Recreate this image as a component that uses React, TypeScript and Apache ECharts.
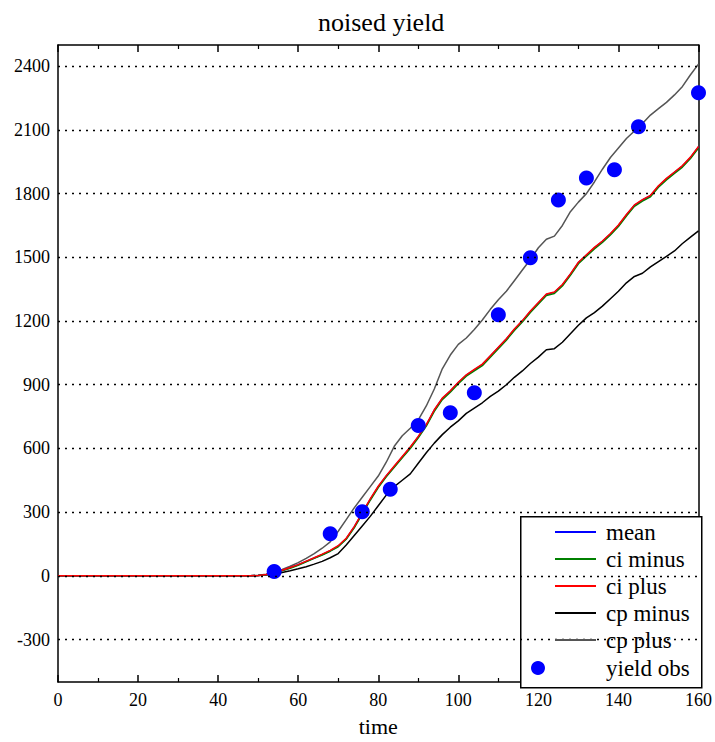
import React, { useEffect, useRef } from "react";
import * as echarts from "echarts";

const times = [0, 48, 50, 52, 54, 56, 58, 60, 62, 64, 66, 68, 70, 72, 74, 76, 78, 80, 82, 84, 86, 88, 90, 92, 94, 96, 98, 100, 102, 104, 106, 108, 110, 112, 114, 116, 118, 120, 122, 124, 126, 128, 130, 132, 134, 136, 138, 140, 142, 144, 146, 148, 150, 152, 154, 156, 158, 160];

const meanVals = [0, 0, 2, 6, 14, 25, 38, 52, 68, 84, 100, 118, 140, 175, 230, 295, 360, 420, 470, 515, 560, 605, 655, 710, 780, 835, 870, 910, 945, 970, 995, 1035, 1075, 1115, 1160, 1200, 1245, 1285, 1325, 1335, 1370, 1420, 1475, 1510, 1545, 1575, 1610, 1650, 1700, 1745, 1770, 1790, 1835, 1870, 1900, 1930, 1970, 2020];
const ciMinusVals = [0, 0, 2, 5, 13, 24, 36, 50, 66, 82, 98, 116, 137, 172, 226, 291, 356, 416, 466, 511, 556, 600, 650, 705, 775, 830, 865, 905, 940, 965, 990, 1030, 1070, 1110, 1155, 1195, 1240, 1280, 1320, 1330, 1365, 1415, 1470, 1505, 1540, 1570, 1605, 1645, 1695, 1740, 1765, 1785, 1830, 1865, 1895, 1925, 1965, 2015];
const ciPlusVals = [0, 0, 2, 6, 15, 26, 39, 53, 69, 85, 102, 120, 142, 177, 232, 297, 362, 422, 472, 517, 562, 607, 657, 712, 782, 837, 872, 912, 947, 972, 997, 1037, 1077, 1117, 1162, 1202, 1247, 1287, 1327, 1337, 1372, 1422, 1477, 1512, 1547, 1577, 1612, 1652, 1702, 1747, 1772, 1792, 1837, 1872, 1902, 1932, 1972, 2022];
const cpMinusVals = [0, 0, 1, 4, 9, 16, 24, 33, 43, 55, 68, 85, 105, 145, 190, 235, 280, 330, 380, 420, 450, 480, 530, 580, 625, 665, 700, 730, 765, 790, 815, 845, 870, 900, 935, 965, 1000, 1030, 1065, 1070, 1100, 1140, 1180, 1215, 1240, 1270, 1305, 1340, 1380, 1410, 1425, 1455, 1480, 1505, 1530, 1565, 1595, 1625];
const cpPlusVals = [0, 0, 3, 8, 17, 30, 45, 62, 82, 105, 130, 160, 210, 265, 320, 370, 420, 470, 535, 610, 660, 695, 735, 800, 880, 975, 1040, 1090, 1120, 1160, 1205, 1255, 1300, 1340, 1390, 1440, 1490, 1545, 1585, 1600, 1650, 1715, 1760, 1800, 1855, 1915, 1970, 2015, 2060, 2095, 2130, 2170, 2200, 2230, 2265, 2305, 2360, 2410];

const obsTimes = [54, 68, 76, 83, 90, 98, 104, 110, 118, 125, 132, 139, 145, 160];
const obsVals = [20, 198, 302, 408, 708, 768, 862, 1230, 1498, 1770, 1874, 1913, 2115, 2275];

const gridValues = [-300, 0, 300, 600, 900, 1200, 1500, 1800, 2100, 2400];

const lineNames = ["mean", "ci minus", "ci plus", "cp minus", "cp plus"];

const FONT = "'Liberation Serif', 'DejaVu Serif', serif";

function zip(xs: number[], ys: number[]) {
  return xs.map((x, i) => [x, ys[i]]);
}

export default function App() {
  const ref = useRef<HTMLDivElement>(null);
  useEffect(() => {
    if (!ref.current) return;
    const chart = echarts.init(ref.current, null, { renderer: "svg" });
    const lineSeries = (name: string, vals: number[], color: string, extra: any = {}) => ({
      name,
      type: "line",
      data: zip(times, vals),
      showSymbol: false,
      symbol: "none",
      lineStyle: { color, width: 1.5 },
      itemStyle: { color },
      z: 2,
      ...extra,
    });
    chart.setOption({
      animation: false,
      backgroundColor: "#fff",
      title: {
        text: "noised yield",
        left: 313,
        top: 4,
        textStyle: { fontFamily: FONT, fontSize: 26, fontWeight: "normal", color: "#000" },
      },
      grid: { left: 58, right: 14, top: 45, bottom: 55, containLabel: false },
      xAxis: [
        {
          type: "value",
          min: 0,
          max: 160,
          interval: 20,
          name: "time",
          nameLocation: "middle",
          nameGap: 33,
          nameTextStyle: { fontFamily: FONT, fontSize: 22, color: "#000" },
          axisLine: { onZero: false, lineStyle: { color: "#000", width: 1.5 } },
          axisTick: { inside: true, length: 7, lineStyle: { color: "#000", width: 1.5 } },
          minorTick: { show: true, splitNumber: 2, length: 4, lineStyle: { color: "#000", width: 1.2 } },
          axisLabel: { fontFamily: FONT, fontSize: 18, color: "#000", margin: 9 },
          splitLine: { show: false },
        },
        {
          type: "value",
          position: "top",
          min: 0,
          max: 160,
          interval: 20,
          axisLine: { show: true, onZero: false, lineStyle: { color: "#000", width: 1.5 } },
          axisTick: { show: true, inside: true, length: 7, lineStyle: { color: "#000", width: 1.5 } },
          minorTick: { show: true, splitNumber: 2, length: 4, lineStyle: { color: "#000", width: 1.2 } },
          axisLabel: { show: false },
          splitLine: { show: false },
        },
      ],
      yAxis: [
        {
          type: "value",
          min: -500,
          max: 2500,
          interval: 100,
          axisLine: { show: true, onZero: false, lineStyle: { color: "#000", width: 1.5 } },
          axisTick: { show: false },
          axisLabel: {
            fontFamily: FONT,
            fontSize: 18,
            color: "#000",
            margin: 8,
            formatter: (v: number) => (v % 300 === 0 && v !== 2500 ? String(v) : ""),
          },
          splitLine: { show: false },
        },
        {
          type: "value",
          position: "right",
          min: -500,
          max: 2500,
          interval: 100,
          axisLine: { show: true, onZero: false, lineStyle: { color: "#000", width: 1.5 } },
          axisTick: { show: false },
          axisLabel: { show: false },
          splitLine: { show: false },
        },
      ],
      legend: [
        {
          orient: "vertical",
          left: 555,
          top: 520.5,
          itemWidth: 41,
          itemHeight: 2,
          itemGap: 4,
          padding: 0,
          z: 10,
          icon: "rect",
          textStyle: { fontFamily: FONT, fontSize: 23, lineHeight: 23, color: "#000", padding: [0, 0, 0, 5] },
          data: lineNames.map((n) => ({ name: n, icon: "rect" })),
        },
        {
          orient: "vertical",
          left: 531,
          top: 656.5,
          itemWidth: 14,
          itemHeight: 14,
          padding: 0,
          z: 10,
          textStyle: { fontFamily: FONT, fontSize: 23, lineHeight: 23, color: "#000", padding: [0, 0, 0, 56] },
          data: [{ name: "yield obs", icon: "circle" }],
        },
      ],
      graphic: [
        {
          type: "rect",
          left: 520,
          top: 516,
          shape: { width: 181, height: 171 },
          style: { fill: "#fff", stroke: "#000", lineWidth: 1.5 },
          z: 5,
        },
      ],
      series: [
        lineSeries("cp minus", cpMinusVals, "#000000", {
          markLine: {
            silent: true,
            symbol: "none",
            label: { show: false },
            lineStyle: { color: "#000", type: [2, 5], width: 1.3 },
            data: gridValues.map((v) => ({ yAxis: v })),
          },
        }),
        lineSeries("cp plus", cpPlusVals, "#555555"),
        lineSeries("mean", meanVals, "#0000ff"),
        lineSeries("ci minus", ciMinusVals, "#008000"),
        lineSeries("ci plus", ciPlusVals, "#ff0000"),
        {
          name: "yield obs",
          type: "scatter",
          data: zip(obsTimes, obsVals),
          symbolSize: 15,
          itemStyle: { color: "#0000ff", opacity: 1 },
          z: 3,
        },
      ],
    });
    return () => chart.dispose();
  }, []);
  return <div ref={ref} style={{ width: 715, height: 742, position: "absolute", left: 0, top: 0 }} />;
}
